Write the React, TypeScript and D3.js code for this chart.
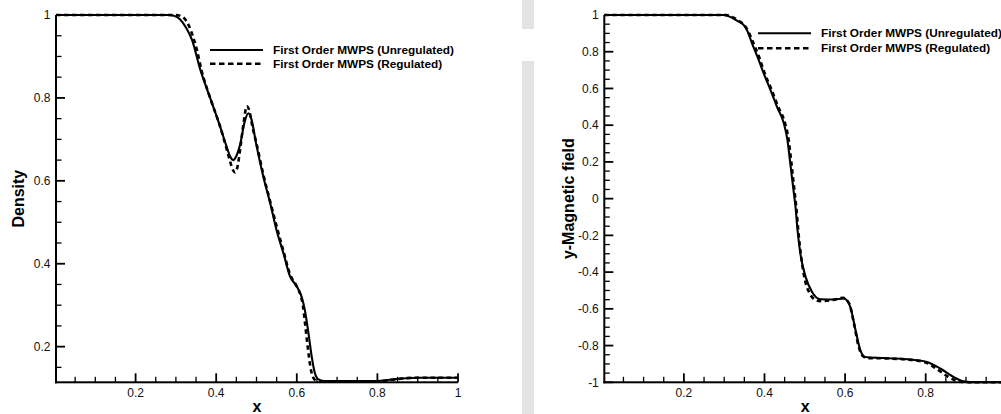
import React from "react";
import * as d3 from "d3";

const FONT = "'Liberation Sans', Arial, Helvetica, sans-serif";

// ---------- data ----------
const densityUnregulated: [number, number][] = [
  [0.0025, 1], [0.28, 1], [0.295, 0.998], [0.31, 0.99], [0.325, 0.97], [0.34, 0.94],
  [0.36, 0.87], [0.385, 0.8], [0.41, 0.73], [0.425, 0.685], [0.435, 0.658], [0.442, 0.65],
  [0.45, 0.66], [0.46, 0.69], [0.47, 0.74], [0.48, 0.763], [0.487, 0.75], [0.5, 0.685],
  [0.517, 0.61], [0.534, 0.546], [0.55, 0.48], [0.567, 0.425], [0.583, 0.37], [0.6, 0.345],
  [0.612, 0.32], [0.62, 0.288], [0.629, 0.232], [0.637, 0.176], [0.645, 0.136], [0.654, 0.121],
  [0.67, 0.117], [0.8, 0.117], [0.83, 0.12], [0.86, 0.123], [0.9, 0.125], [1, 0.125],
];
const densityRegulated: [number, number][] = [
  [0.0025, 1], [0.3, 1], [0.315, 0.996], [0.327, 0.984], [0.34, 0.955], [0.352, 0.916],
  [0.364, 0.865], [0.385, 0.8], [0.41, 0.73], [0.425, 0.68], [0.435, 0.645], [0.442, 0.625],
  [0.447, 0.62], [0.452, 0.63], [0.46, 0.68], [0.468, 0.74], [0.476, 0.78], [0.482, 0.77],
  [0.49, 0.73], [0.5, 0.69], [0.517, 0.615], [0.534, 0.55], [0.55, 0.49], [0.567, 0.43],
  [0.583, 0.375], [0.6, 0.345], [0.61, 0.322], [0.615, 0.3], [0.62, 0.26], [0.627, 0.2],
  [0.634, 0.15], [0.64, 0.127], [0.648, 0.118], [0.66, 0.116], [0.8, 0.116], [0.83, 0.119],
  [0.86, 0.123], [0.9, 0.125], [1, 0.125],
];
const byUnregulated: [number, number][] = [
  [0.0025, 1], [0.298, 1], [0.315, 0.99], [0.328, 0.973], [0.348, 0.946], [0.357, 0.915],
  [0.37, 0.84], [0.383, 0.77], [0.398, 0.682], [0.415, 0.591], [0.431, 0.5], [0.448, 0.41],
  [0.457, 0.319], [0.464, 0.192], [0.472, 0.046], [0.477, -0.045], [0.482, -0.172],
  [0.489, -0.299], [0.502, -0.426], [0.518, -0.508], [0.539, -0.548], [0.572, -0.549],
  [0.597, -0.544], [0.613, -0.59], [0.626, -0.717], [0.638, -0.826], [0.65, -0.862],
  [0.696, -0.868], [0.778, -0.88], [0.803, -0.889], [0.836, -0.925], [0.869, -0.971],
  [0.894, -0.995], [0.923, -1], [1, -1],
];
const byRegulated: [number, number][] = [
  [0.0025, 1], [0.305, 1], [0.32, 0.99], [0.335, 0.97], [0.35, 0.945], [0.36, 0.91],
  [0.372, 0.85], [0.386, 0.775], [0.401, 0.68], [0.418, 0.59], [0.434, 0.5], [0.451, 0.41],
  [0.46, 0.32], [0.467, 0.19], [0.474, 0.05], [0.479, -0.05], [0.484, -0.18], [0.49, -0.3],
  [0.5, -0.44], [0.512, -0.515], [0.525, -0.55], [0.54, -0.558], [0.57, -0.552],
  [0.595, -0.54], [0.61, -0.57], [0.622, -0.68], [0.633, -0.8], [0.643, -0.855],
  [0.655, -0.868], [0.7, -0.87], [0.78, -0.882], [0.8, -0.892], [0.83, -0.932],
  [0.86, -0.975], [0.885, -0.997], [0.91, -1], [1, -1],
];

const seriesNames = ["First Order MWPS (Unregulated)", "First Order MWPS (Regulated)"];
const leftXMajor = [0.2, 0.4, 0.6, 0.8, 1];
const rightXMajor = [0.2, 0.4, 0.6, 0.8];
const xMinor = [0.05, 0.1, 0.15, 0.25, 0.3, 0.35, 0.45, 0.5, 0.55, 0.65, 0.7, 0.75, 0.85, 0.9, 0.95];
const leftYMajor = [0.2, 0.4, 0.6, 0.8, 1];
const leftYMinor = [0.15, 0.25, 0.3, 0.35, 0.45, 0.5, 0.55, 0.65, 0.7, 0.75, 0.85, 0.9, 0.95];
const rightYMajor = [-1, -0.8, -0.6, -0.4, -0.2, 0, 0.2, 0.4, 0.6, 0.8, 1];
const rightYMinor = [-0.95, -0.9, -0.85, -0.75, -0.7, -0.65, -0.55, -0.5, -0.45, -0.35, -0.3, -0.25,
  -0.15, -0.1, -0.05, 0.05, 0.1, 0.15, 0.25, 0.3, 0.35, 0.45, 0.5, 0.55, 0.65, 0.7, 0.75, 0.85, 0.9, 0.95];

const fmt = (v: number) => String(+v.toFixed(2));

type PanelProps = {
  x0: number; x1: number; yTop: number; yBot: number;
  yDomain: [number, number];
  xMajor: number[]; yMajor: number[]; yMinor: number[];
  solid: [number, number][]; dashed: [number, number][];
  yTitle: string; yTitleX: number;
  legendX: number; legendY: number; legendGap: number;
};

const MAJ = 9;
const MIN = 5.5;

function makeScales(p: PanelProps) {
  const x = d3.scaleLinear().domain([0.0025, 1]).range([p.x0, p.x1]);
  const y = d3.scaleLinear().domain(p.yDomain).range([p.yBot, p.yTop]);
  return { x, y };
}

// Axes and ticks drawn as filled rectangles
function Axes(p: PanelProps) {
  const { x, y } = makeScales(p);
  return (
    <g fill="#000">
      <rect x={p.x0 - 1} y={p.yTop} width={2} height={p.yBot - p.yTop + 1} />
      <rect x={p.x0 - 1} y={p.yBot - 1} width={p.x1 - p.x0 + 1} height={2} />
      {xMinor.map((v, i) => (
        <rect key={"xm" + i} x={x(v) - 0.65} y={p.yBot - MIN} width={1.3} height={MIN} />
      ))}
      {p.yMinor.map((v, i) => (
        <rect key={"ym" + i} x={p.x0} y={y(v) - 0.65} width={MIN} height={1.3} />
      ))}
      {p.xMajor.map((v, i) => (
        <rect key={"xM" + i} x={x(v) - 0.9} y={p.yBot - MAJ} width={1.8} height={MAJ} />
      ))}
      {p.yMajor.map((v, i) => (
        <rect key={"yM" + i} x={p.x0} y={y(v) - 0.9} width={MAJ} height={1.8} />
      ))}
    </g>
  );
}

function Panel(p: PanelProps) {
  const { x, y } = makeScales(p);
  const line = d3.line<[number, number]>().x((d) => x(d[0])).y((d) => y(d[1])).curve(d3.curveMonotoneX);
  const lx = p.legendX;
  return (
    <g>
      <path d={line(p.solid) || ""} fill="none" stroke="#000" strokeWidth={2.1} />
      <path d={line(p.dashed) || ""} fill="none" stroke="#000" strokeWidth={2.6} strokeDasharray="4.5,3.5" />
      {p.xMajor.map((v, i) => (
        <text key={"xt" + i} x={x(v)} y={p.yBot + 14.5} textAnchor="middle" fontFamily={FONT} fontSize={12} fill="#111">{fmt(v)}</text>
      ))}
      {p.yMajor.map((v, i) => (
        <text key={"yt" + i} x={p.x0 - 5.5} y={y(v) + 4.3} textAnchor="end" fontFamily={FONT} fontSize={12} fill="#111">{fmt(v)}</text>
      ))}
      <text transform={`translate(${p.yTitleX + 5.5},${(p.yTop + p.yBot) / 2}) rotate(-90)`} textAnchor="middle"
        fontFamily={FONT} fontWeight="bold" fontSize={16} fill="#000">{p.yTitle}</text>
      <text x={(p.x0 + p.x1) / 2} y={412} textAnchor="middle" fontFamily={FONT} fontWeight="bold" fontSize={16} fill="#000">x</text>
      <line x1={lx} x2={lx + 53} y1={p.legendY} y2={p.legendY} stroke="#000" strokeWidth={2.1} />
      <line x1={lx} x2={lx + 53} y1={p.legendY + p.legendGap} y2={p.legendY + p.legendGap} stroke="#000" strokeWidth={2.6} strokeDasharray="5.5,3.5" />
      {seriesNames.map((n, i) => (
        <text key={n} x={lx + 63} y={p.legendY + i * p.legendGap + 4} fontFamily={FONT} fontWeight="bold" fontSize={11.8} fill="#000">{n}</text>
      ))}
    </g>
  );
}

const leftPanel: PanelProps = {
  x0: 56, x1: 458, yTop: 15, yBot: 382.3, yDomain: [0.114, 1],
  xMajor: leftXMajor, yMajor: leftYMajor, yMinor: leftYMinor,
  solid: densityUnregulated, dashed: densityRegulated,
  yTitle: "Density", yTitleX: 18, legendX: 210, legendY: 50, legendGap: 13.7,
};
const rightPanel: PanelProps = {
  x0: 604.3, x1: 1006.3, yTop: 15, yBot: 382.3, yDomain: [-1, 1],
  xMajor: rightXMajor, yMajor: rightYMajor, yMinor: rightYMinor,
  solid: byUnregulated, dashed: byRegulated,
  yTitle: "y-Magnetic field", yTitleX: 568, legendX: 758, legendY: 33.3, legendGap: 15,
};

export default function App() {
  return (
    <svg width={1001} height={414} style={{ position: "absolute", left: 0, top: 0, display: "block" }}>
      <rect x={522} y={0} width={12} height={29} fill="#e3e3e3" />
      <rect x={522} y={61} width={12} height={353} fill="#e3e3e3" />
      <Panel {...leftPanel} />
      <Panel {...rightPanel} />
      <Axes {...leftPanel} />
      <Axes {...rightPanel} />
    </svg>
  );
}
